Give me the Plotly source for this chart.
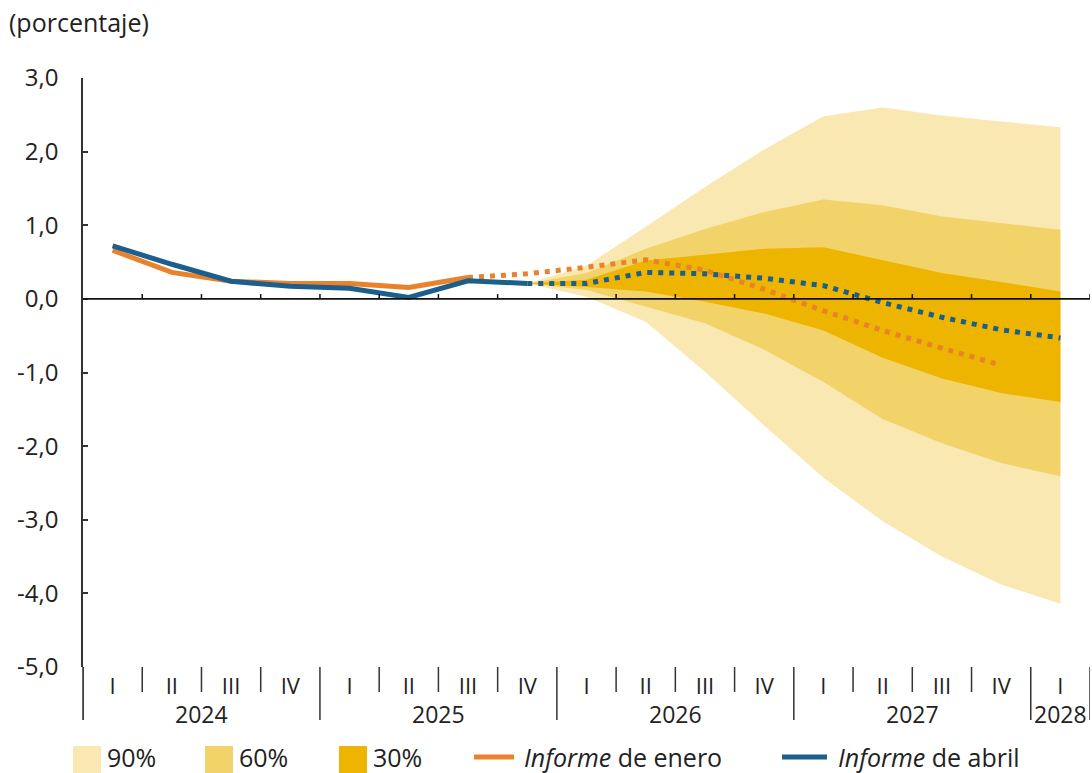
import plotly.graph_objects as go

# ---------------- data ----------------
quarter_labels = ["I", "II", "III", "IV", "I", "II", "III", "IV",
                  "I", "II", "III", "IV", "I", "II", "III", "IV", "I"]
year_labels = ["2024", "2025", "2026", "2027", "2028"]
year_centers = [1.5, 5.5, 9.5, 13.5, 16]          # in quarter-index units
y_tick_vals = [-5, -4, -3, -2, -1, 0, 1, 2, 3]
y_tick_text = ["-5,0", "-4,0", "-3,0", "-2,0", "-1,0", "0,0", "1,0", "2,0", "3,0"]

# Informe de enero (orange)
enero_hist_x = [0, 1, 2, 3, 4, 5, 6]
enero_hist = [0.66, 0.36, 0.24, 0.21, 0.21, 0.155, 0.29]
enero_proj_x = [6, 7, 8, 9, 10, 11, 12, 13, 14, 15]
enero_proj = [0.29, 0.34, 0.43, 0.53, 0.39, 0.13, -0.16, -0.43, -0.67, -0.90]

# Informe de abril (blue)
abril_hist_x = [0, 1, 2, 3, 4, 5, 6, 7]
abril_hist = [0.72, 0.47, 0.24, 0.17, 0.145, 0.02, 0.245, 0.21]
abril_proj_x = [7, 8, 9, 10, 11, 12, 13, 14, 15, 16]
abril_proj = [0.21, 0.21, 0.36, 0.34, 0.28, 0.18, -0.05, -0.25, -0.42, -0.53]

# Fan chart bands (quarters 2025 IV .. 2028 I)
band_x = [7, 8, 9, 10, 11, 12, 13, 14, 15, 16]
p90_up = [0.21, 0.45, 0.98, 1.52, 2.03, 2.48, 2.60, 2.49, 2.41, 2.33]
p60_up = [0.21, 0.35, 0.68, 0.95, 1.18, 1.35, 1.27, 1.12, 1.03, 0.94]
p30_up = [0.21, 0.26, 0.52, 0.60, 0.68, 0.70, 0.53, 0.35, 0.23, 0.10]
p30_lo = [0.21, 0.16, 0.10, -0.04, -0.20, -0.43, -0.80, -1.08, -1.28, -1.40]
p60_lo = [0.21, 0.12, -0.10, -0.33, -0.69, -1.13, -1.63, -1.96, -2.23, -2.41]
p90_lo = [0.21, 0.03, -0.31, -0.99, -1.72, -2.43, -3.02, -3.50, -3.88, -4.14]

# ---------------- style ----------------
C90 = "#F9E8B2"
C60 = "#F2D36A"
C30 = "#EDB500"
ORANGE = "#E8822C"
BLUE = "#1D5F8C"
TXT = "#222222"
AX = "#333333"
FONT = "Open Sans"
FS = 24

W, H = 1092, 773
ML, MR, MT, MB = 83, 2, 78, 106
PW = W - ML - MR
PH = H - MT - MB


def px_x(p):
    return (p - ML) / PW


def px_y(p):
    return (H - MB - p) / PH


fig = go.Figure()


def band(up, lo, color, name):
    xs = band_x + band_x[::-1]
    ys = up + lo[::-1]
    fig.add_trace(go.Scatter(x=xs, y=ys, fill="toself", fillcolor=color,
                             line=dict(width=0, color=color), mode="lines",
                             name=name, showlegend=False, hoverinfo="skip"))


band(p90_up, p90_lo, C90, "90%")
band(p60_up, p60_lo, C60, "60%")
band(p30_up, p30_lo, C30, "30%")

DOT = "5px,6px"
fig.add_trace(go.Scatter(x=enero_hist_x, y=enero_hist, mode="lines",
                         line=dict(color=ORANGE, width=5), showlegend=False,
                         name="Informe de enero"))
fig.add_trace(go.Scatter(x=abril_proj_x, y=abril_proj, mode="lines",
                         line=dict(color=BLUE, width=5, dash=DOT), showlegend=False,
                         name="Informe de abril (proy.)"))
fig.add_trace(go.Scatter(x=enero_proj_x, y=enero_proj, mode="lines",
                         line=dict(color=ORANGE, width=5, dash=DOT), showlegend=False,
                         name="Informe de enero (proy.)"))
fig.add_trace(go.Scatter(x=abril_hist_x, y=abril_hist, mode="lines",
                         line=dict(color=BLUE, width=5), showlegend=False,
                         name="Informe de abril"))

shapes = []
# zero line
shapes.append(dict(type="line", xref="paper", yref="y", x0=0, x1=1, y0=0, y1=0,
                   line=dict(color="#111111", width=1.8), layer="above"))
# small ticks on zero line at quarter boundaries
n = len(quarter_labels)
for k in range(1, n + 1):
    xb = k - 0.5
    shapes.append(dict(type="line", xref="x", yref="y", x0=xb, x1=xb, y0=0, y1=0.065,
                       line=dict(color="#111111", width=1.5), layer="above"))
# separators below the plot
year_bounds = [-0.5, 3.5, 7.5, 11.5, 15.5, 16.5]
for k in range(0, n + 1):
    xb = k - 0.5
    if xb in year_bounds:
        y1 = px_y(720)
    else:
        y1 = px_y(692)
    shapes.append(dict(type="line", xref="x", yref="paper", x0=xb, x1=xb,
                       y0=0, y1=y1, line=dict(color=AX, width=1.5)))

annotations = []
# year labels
for lab, xc in zip(year_labels, year_centers):
    annotations.append(dict(x=xc, y=px_y(714), xref="x", yref="paper", text=lab,
                            showarrow=False, xanchor="center", yanchor="middle",
                            font=dict(family=FONT, size=FS - 1, color=TXT)))
# unit label
annotations.append(dict(x=px_x(7), y=px_y(22), xref="paper", yref="paper",
                        text="(porcentaje)", showarrow=False, xanchor="left",
                        yanchor="middle", font=dict(family=FONT, size=25, color=TXT)))

# legend (manual)
LEG_Y = 757
LFS = 25
sw = [(73, C90, "90%"), (205, C60, "60%"), (339, C30, "30%")]
for x0, col, lab in sw:
    shapes.append(dict(type="rect", xref="paper", yref="paper",
                       x0=px_x(x0), x1=px_x(x0 + 28), y0=px_y(773), y1=px_y(746),
                       fillcolor=col, line=dict(width=0)))
    annotations.append(dict(x=px_x(x0 + 32), y=px_y(LEG_Y), xref="paper", yref="paper",
                            text=lab, showarrow=False, xanchor="left", yanchor="middle",
                            font=dict(family=FONT, size=LFS, color=TXT)))
for x0, x1, xt, col, lab in [(474, 514, 522, ORANGE, "<i>Informe</i> de enero"),
                             (782, 827, 836, BLUE, "<i>Informe</i> de abril")]:
    shapes.append(dict(type="line", xref="paper", yref="paper",
                       x0=px_x(x0), x1=px_x(x1), y0=px_y(LEG_Y), y1=px_y(LEG_Y),
                       line=dict(color=col, width=5)))
    annotations.append(dict(x=px_x(xt), y=px_y(LEG_Y), xref="paper", yref="paper",
                            text=lab, showarrow=False, xanchor="left", yanchor="middle",
                            font=dict(family=FONT, size=LFS, color=TXT)))
# y-axis extension line down through category labels
shapes.append(dict(type="line", xref="paper", yref="paper", x0=0, x1=0,
                   y0=0, y1=px_y(720), line=dict(color=AX, width=1.5)))

fig.update_layout(
    width=W, height=H,
    margin=dict(l=ML, r=MR, t=MT, b=MB),
    paper_bgcolor="white", plot_bgcolor="white",
    showlegend=False,
    shapes=shapes, annotations=annotations,
    font=dict(family=FONT, size=FS, color=TXT),
    xaxis=dict(range=[-0.5, 16.5], tickmode="array",
               tickvals=list(range(n)), ticktext=quarter_labels,
               ticks="", showline=False, showgrid=False, zeroline=False,
               tickfont=dict(family=FONT, size=FS - 2, color=TXT),
               ticklabelstandoff=4, fixedrange=True),
    yaxis=dict(range=[-5, 3], tickmode="array", tickvals=y_tick_vals,
               ticktext=y_tick_text, ticks="inside", ticklen=5, tickwidth=1.5,
               tickcolor=AX, showline=True, linecolor=AX, linewidth=1.5,
               showgrid=False, zeroline=False,
               tickfont=dict(family=FONT, size=FS, color=TXT),
               ticklabelstandoff=18, fixedrange=True),
)

fig.write_html("out.html", config={"displayModeBar": False},
               post_script="document.body.style.margin='0';document.body.style.overflow='hidden';")
